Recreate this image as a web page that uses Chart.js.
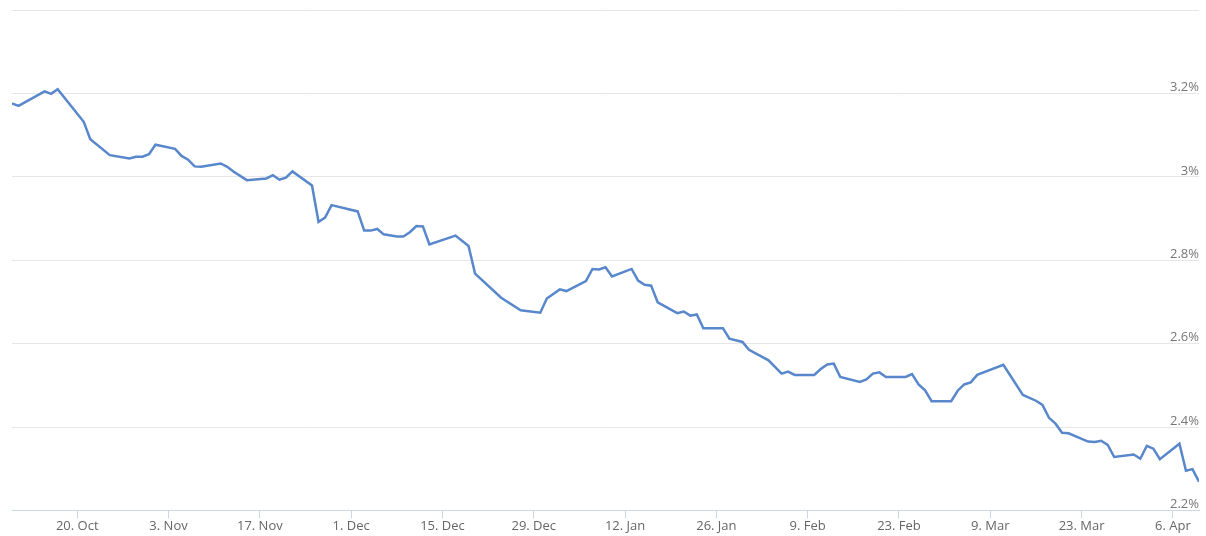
<!DOCTYPE html>
<html>
<head>
<meta charset="utf-8">
<script src="https://cdn.jsdelivr.net/npm/chart.js@4"></script>
<style>
  body { margin: 0; background: #fff; }
  #wrap { width: 1206px; height: 536px; position: relative; }
</style>
</head>
<body>
<div id="wrap"><canvas id="myChart"></canvas></div>
<script>
// days counted from 20. Oct (trading days)
const days = [-10, -9, -5, -4, -3, 1, 2, 5, 8, 9, 10, 11, 12, 15, 16, 17, 18, 19, 22, 23, 24, 26, 29, 30, 31, 32, 33, 36, 37, 38, 39, 43, 44, 45, 46, 47, 49, 50, 51, 52, 53, 54, 58, 60, 61, 65, 68, 71, 72, 74, 75, 78, 79, 80, 81, 82, 85, 86, 87, 88, 89, 92, 93, 94, 95, 96, 99, 100, 102, 103, 106, 108, 109, 110, 113, 114, 115, 116, 117, 120, 121, 122, 123, 124, 127, 128, 129, 130, 131, 134, 135, 136, 137, 138, 142, 145, 147, 148, 149, 150, 151, 152, 155, 156, 157, 158, 159, 162, 163, 164, 165, 166, 169, 170, 171, 172];
const yields = [3.176, 3.170, 3.205, 3.199, 3.210, 3.132, 3.090, 3.052, 3.044, 3.048, 3.048, 3.054, 3.077, 3.067, 3.050, 3.041, 3.025, 3.024, 3.032, 3.024, 3.012, 2.992, 2.996, 3.004, 2.993, 2.998, 3.013, 2.979, 2.892, 2.902, 2.932, 2.917, 2.871, 2.871, 2.875, 2.862, 2.857, 2.857, 2.867, 2.882, 2.881, 2.838, 2.859, 2.834, 2.768, 2.710, 2.680, 2.674, 2.708, 2.730, 2.726, 2.750, 2.779, 2.778, 2.783, 2.761, 2.779, 2.751, 2.741, 2.739, 2.699, 2.673, 2.677, 2.667, 2.670, 2.637, 2.637, 2.612, 2.604, 2.585, 2.560, 2.528, 2.533, 2.525, 2.525, 2.539, 2.550, 2.552, 2.520, 2.508, 2.514, 2.528, 2.531, 2.520, 2.520, 2.527, 2.502, 2.488, 2.462, 2.462, 2.487, 2.502, 2.507, 2.525, 2.549, 2.477, 2.463, 2.453, 2.422, 2.408, 2.386, 2.385, 2.365, 2.364, 2.367, 2.357, 2.328, 2.334, 2.324, 2.355, 2.348, 2.323, 2.360, 2.295, 2.299, 2.269];

const tickDays = [0, 14, 28, 42, 56, 70, 84, 98, 112, 126, 140, 154, 168];
const tickLabels = ["20. Oct", "3. Nov", "17. Nov", "1. Dec", "15. Dec", "29. Dec", "12. Jan", "26. Jan", "9. Feb", "23. Feb", "9. Mar", "23. Mar", "6. Apr"];
const yTicks = [2.2, 2.4, 2.6, 2.8, 3.0, 3.2, 3.4];
const yTickLabels = ["2.2%", "2.4%", "2.6%", "2.8%", "3%", "3.2%", ""];

const points = days.map(function (d, i) {
  return { x: d, y: yields[i] };
});

const ctx = document.getElementById("myChart").getContext("2d");

const myChart = new Chart(ctx, {
  type: "line",
  data: {
    datasets: [
      {
        label: "Yield",
        data: points,
        borderColor: "#5887cc",
        borderWidth: 2.5,
        pointRadius: 0,
        tension: 0,
        fill: false,
      },
    ],
  },
  options: {
    responsive: true,
    maintainAspectRatio: false,
    animation: false,
    layout: {
      padding: { left: 12, right: 7, top: 10, bottom: 2 },
    },
    scales: {
      x: {
        type: "linear",
        min: -10,
        max: 172,
        afterBuildTicks: function (axis) {
          axis.ticks = tickDays.map(function (v) {
            return { value: v };
          });
        },
        ticks: {
          autoSkip: false,
          maxRotation: 0,
          padding: 0,
          color: "#666",
          font: { family: "Open Sans", size: 13 },
          callback: function (value) {
            const i = tickDays.indexOf(value);
            return i >= 0 ? tickLabels[i] : "";
          },
        },
        grid: {
          drawOnChartArea: false,
          drawTicks: true,
          tickLength: 8,
          color: "#ccd6eb",
        },
        border: { display: true, color: "#ccd6eb" },
      },
      y: {
        position: "right",
        min: 2.2,
        max: 3.4,
        afterBuildTicks: function (axis) {
          axis.ticks = yTicks.map(function (v) {
            return { value: v };
          });
        },
        ticks: {
          mirror: true,
          padding: 0,
          labelOffset: -6,
          color: "#777",
          font: { family: "Open Sans", size: 13 },
          callback: function (value) {
            const i = yTicks.findIndex(function (t) { return Math.abs(t - value) < 1e-6; });
            return i >= 0 ? yTickLabels[i] : "";
          },
        },
        grid: {
          color: "#e6e6e6",
          drawTicks: false,
        },
        border: { display: false },
      },
    },
    plugins: {
      legend: { display: false },
      tooltip: { enabled: false },
    },
  },
});
</script>
</body>
</html>
